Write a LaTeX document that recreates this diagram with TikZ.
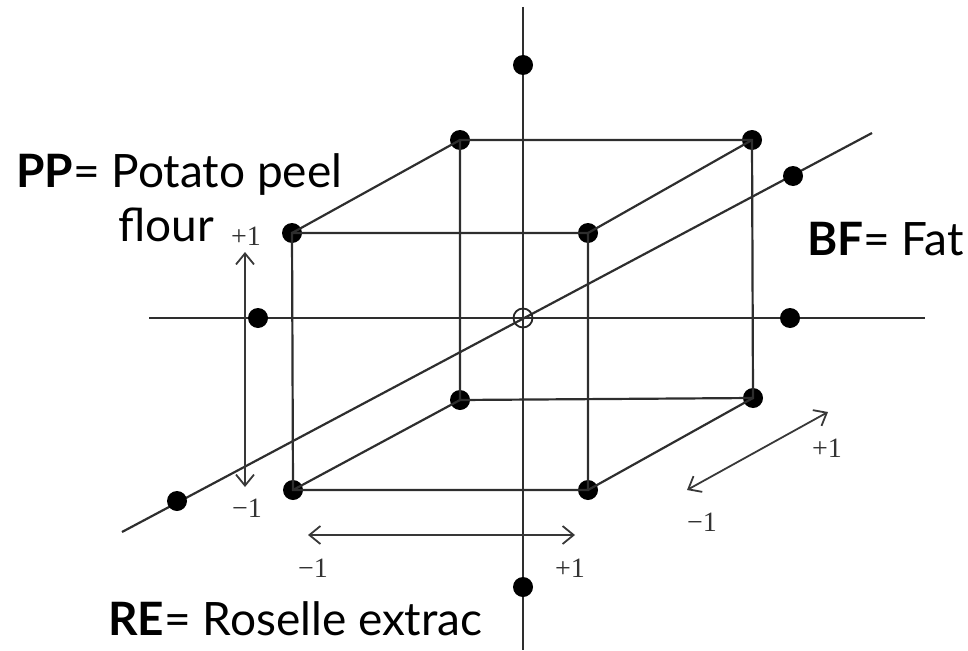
\documentclass[tikz,border=0pt]{standalone}
\usepackage{fontspec}
\setmainfont{Liberation Serif}
\newfontfamily\labfont{Lato}
\usetikzlibrary{arrows.meta}
\begin{document}
\begin{tikzpicture}[x=1pt,y=-1pt,
  axisline/.style={line width=2.2pt, draw=black!82},
  cubeedge/.style={line width=2.2pt, draw=black!82},
  fdot/.style={circle, fill=black, inner sep=0pt, minimum size=20pt},
  ctr/.style={circle, draw=black!85, line width=1.8pt, inner sep=0pt, minimum size=19pt},
  rng/.style={line width=1.8pt, draw=black!78,
    {Straight Barb[length=11pt,width=18pt,line width=1.8pt]}-{Straight Barb[length=11pt,width=18pt,line width=1.8pt]}},
  lvl/.style={font=\fontsize{28}{28}\selectfont, text=black!80, inner sep=0pt},
  lbltxt/.style={font=\labfont\fontsize{46}{46}\selectfont, inner sep=0pt, anchor=base west}
]
\useasboundingbox (0,0) rectangle (968,650);

% axis end points
\coordinate (vt) at (523,7);
\coordinate (vb) at (523,650);
\coordinate (hl) at (149,318);
\coordinate (hr) at (925,318);
\coordinate (dl) at (122,532);
\coordinate (dr) at (872,133);

% axes
\draw[axisline] (vt) -- (vb);
\draw[axisline] (hl) -- (hr);
\draw[axisline] (dl) -- (dr);

% cube corners
\node[fdot] (ftl) at (292,233) {};
\node[fdot] (ftr) at (588,233) {};
\node[fdot] (fbl) at (293,490) {};
\node[fdot] (fbr) at (588,490) {};
\node[fdot] (btl) at (460,140) {};
\node[fdot] (btr) at (752,140) {};
\node[fdot] (bbl) at (460,400) {};
\node[fdot] (bbr) at (753,398) {};

% cube edges
\draw[cubeedge] (ftl.center) -- (ftr.center) -- (fbr.center) -- (fbl.center) -- cycle;
\draw[cubeedge] (btl.center) -- (btr.center) -- (bbr.center) -- (bbl.center) -- cycle;
\draw[cubeedge] (ftl.center) -- (btl.center);
\draw[cubeedge] (ftr.center) -- (btr.center);
\draw[cubeedge] (fbl.center) -- (bbl.center);
\draw[cubeedge] (fbr.center) -- (bbr.center);

% axial points
\node[fdot] (at) at (523,65) {};
\node[fdot] (ab) at (523,587) {};
\node[fdot] (al) at (258,318) {};
\node[fdot] (ar) at (790,318) {};
\node[fdot] (adl) at (177,501) {};
\node[fdot] (adr) at (793,176) {};

% centre point
\node[ctr] (c0) at (523,318) {};

% range arrows
\coordinate (va1) at (245,487);
\coordinate (va2) at (245,252);
\coordinate (ha1) at (308,535);
\coordinate (ha2) at (575,535);
\coordinate (da1) at (687,490);
\coordinate (da2) at (828,412);
\draw[rng] (va1) -- (va2);
\draw[rng] (ha1) -- (ha2);
\draw[rng] (da1) -- (da2);

% level labels
\node[lvl] (vp) at (246,236) {+1};
\node[lvl] (vm) at (247,508) {−1};
\node[lvl] (hm) at (313,568) {−1};
\node[lvl] (hp) at (570,568) {+1};
\node[lvl] (dp) at (827,448) {+1};
\node[lvl] (dm) at (702,522) {−1};

% factor names
\node[lbltxt] (pp) at (16,187) {\textbf{PP}= Potato peel};
\node[lbltxt] (fl) at (118,241) {flour};
\node[lbltxt] (bf) at (807,255) {\textbf{BF}= Fat};
\node[lbltxt] (re) at (108,635) {\textbf{RE}= Roselle extrac};
\end{tikzpicture}
\end{document}
